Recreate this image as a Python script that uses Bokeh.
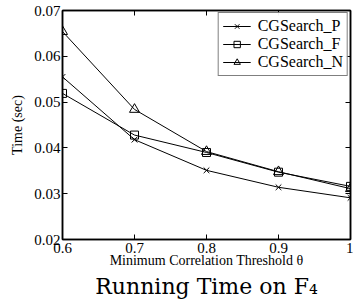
from bokeh.plotting import figure
from bokeh.models import (Range1d, FixedTicker, LinearAxis, CustomJSTickFormatter,
                          Legend, LegendItem, Title, NumeralTickFormatter)
from bokeh.embed import file_html
from bokeh.resources import INLINE

thresholds = [0.6, 0.7, 0.8, 0.9, 1.0]
cg_p = [0.0555, 0.0418, 0.0351, 0.0314, 0.0291]
cg_f = [0.0519, 0.0428, 0.0390, 0.0347, 0.0316]
cg_n = [0.0654, 0.0484, 0.0392, 0.0348, 0.0311]
x_ticks = [0.6, 0.7, 0.8, 0.9, 1.0]
y_ticks = [0.02, 0.03, 0.04, 0.05, 0.06, 0.07]

FONT = "Liberation Serif"

p = figure(width=353, height=299, output_backend="svg", toolbar_location=None,
           x_range=Range1d(0.6, 1.0), y_range=Range1d(0.02, 0.07),
           min_border_left=62, min_border_right=3, min_border_top=10, min_border_bottom=4)
p.xaxis.visible = False
p.yaxis.visible = False
p.grid.visible = False
p.outline_line_color = "black"
p.outline_line_width = 1.5

xfmt = CustomJSTickFormatter(code="return tick > 0.999 ? '1' : tick.toFixed(1);")
blank = CustomJSTickFormatter(code="return '';")

def style(ax):
    ax.major_tick_in = 5
    ax.major_tick_out = 0
    ax.minor_tick_in = 0
    ax.minor_tick_out = 0
    ax.axis_line_color = "black"
    ax.axis_line_width = 1.5
    ax.major_tick_line_color = "black"
    ax.major_label_text_font = FONT
    ax.major_label_text_font_size = "15px"
    ax.major_label_text_color = "black"
    ax.axis_label_text_font = FONT
    ax.axis_label_text_font_size = "14px"
    ax.axis_label_text_font_style = "normal"
    ax.axis_label_text_color = "black"

xb = LinearAxis(ticker=FixedTicker(ticks=x_ticks), formatter=xfmt,
                axis_label="Minimum Correlation Threshold θ")
style(xb)
xb.major_label_standoff = 3
xb.axis_label_standoff = -3
p.add_layout(xb, "below")

yl = LinearAxis(ticker=FixedTicker(ticks=y_ticks), formatter=NumeralTickFormatter(format="0.00"),
                axis_label="Time (sec)")
style(yl)
yl.major_label_standoff = 2
yl.axis_label_standoff = 6
p.add_layout(yl, "left")

xt = LinearAxis(ticker=FixedTicker(ticks=x_ticks), formatter=blank)
style(xt)
xt.major_label_standoff = 0
p.add_layout(xt, "above")
yr = LinearAxis(ticker=FixedTicker(ticks=y_ticks), formatter=blank)
style(yr)
yr.major_label_standoff = 0
p.add_layout(yr, "right")

lp = p.line(thresholds, cg_p, line_color="black", line_width=1)
mp = p.scatter(thresholds, cg_p, marker="x", size=8, line_color="black")
lf = p.line(thresholds, cg_f, line_color="black", line_width=1)
mf = p.scatter(thresholds, cg_f, marker="square", size=8, line_color="black", fill_color=None)
ln = p.line(thresholds, cg_n, line_color="black", line_width=1)
mn = p.scatter(thresholds, cg_n, marker="triangle", size=10, line_color="black", fill_color=None)

legend = Legend(items=[
    LegendItem(label="CGSearch_P", renderers=[lp, mp]),
    LegendItem(label="CGSearch_F", renderers=[lf, mf]),
    LegendItem(label="CGSearch_N", renderers=[ln, mn]),
], location="top_right")
legend.label_text_font = FONT
legend.label_text_font_size = "16px"
legend.label_text_color = "black"
legend.border_line_color = "black"
legend.border_line_width = 1
legend.margin = 2
legend.padding = 4
legend.spacing = 0
legend.glyph_height = 16
legend.label_height = 16
legend.glyph_width = 28
legend.label_standoff = 7
p.add_layout(legend)

title = Title(text="Running Time on F₄", align="center", text_font="DejaVu Serif",
              text_font_size="22px", text_font_style="normal", text_color="black",
              standoff=2)
p.add_layout(title, "below")

open("out.html", "w").write(file_html(p, INLINE))
